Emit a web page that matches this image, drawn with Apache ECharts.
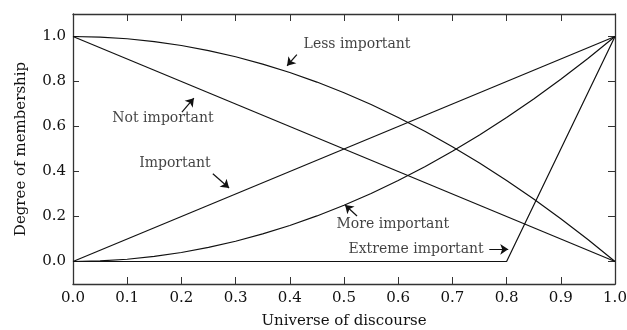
<!DOCTYPE html>
<html><head><meta charset="utf-8">
<script src="https://cdn.jsdelivr.net/npm/echarts@6/dist/echarts.min.js"></script>
<style>html,body{margin:0;padding:0;background:#fff}#c{width:627px;height:330px}</style>
</head><body><div id="c"></div>
<script>
const xs = [0,0.05,0.1,0.15,0.2,0.25,0.3,0.35,0.4,0.45,0.5,0.55,0.6,0.65,0.7,0.75,0.8,0.85,0.9,0.95,1];
const lessImportant = [1,0.9975,0.99,0.9775,0.96,0.9375,0.91,0.8775,0.84,0.7975,0.75,0.6975,0.64,0.5775,0.51,0.4375,0.36,0.2775,0.19,0.0975,0];
const moreImportant = [0,0.0025,0.01,0.0225,0.04,0.0625,0.09,0.1225,0.16,0.2025,0.25,0.3025,0.36,0.4225,0.49,0.5625,0.64,0.7225,0.81,0.9025,1];
const important = [[0,0],[1,1]];
const notImportant = [[0,1],[1,0]];
const extremeImportant = [[0,0],[0.8,0],[1,1]];
const yTicks = [0,0.2,0.4,0.6,0.8,1.0];
const annLabels = ['Less important','Not important','Important','More important','Extreme important'];
const annText = [[0.524,0.964],[0.166,0.637],[0.188,0.435],[0.590,0.166],[0.633,0.054]];
const annTail = [[0.413,0.919],[0.201,0.664],[0.258,0.390],[0.524,0.202],[0.768,0.054]];
const annTip = [[0.395,0.870],[0.223,0.726],[0.288,0.327],[0.502,0.251],[0.803,0.054]];

const FONT = 'DejaVu Serif';
const C = '#111';
const lineStyle = {color: C, width: 1.2};
function pair(a){ return xs.map((x,i)=>[x,a[i]]); }
function mkLine(name,data){ return {name,type:'line',data,showSymbol:false,symbol:'none',lineStyle,silent:true,animation:false,z:3}; }
const axLine = {show:true,onZero:false,lineStyle:{color:'#333',width:1.3}};

const chart = echarts.init(document.getElementById('c'));
chart.setOption({
  animation:false,
  grid:{left:73,right:12,top:14,bottom:46,containLabel:false,outerBoundsMode:'none'},
  xAxis:[{
    type:'value',min:0,max:1,interval:0.1,position:'bottom',
    name:'Universe of discourse',nameLocation:'middle',nameGap:30,
    nameTextStyle:{fontFamily:FONT,fontSize:15,color:C},
    axisLine:axLine,
    axisTick:{inside:true,length:7,lineStyle:{color:'#333'}},
    axisLabel:{fontFamily:FONT,fontSize:15,color:C,margin:7,formatter:v=>v.toFixed(1)},
    splitLine:{show:false}
  },{
    type:'value',min:0,max:1,interval:0.1,position:'top',
    axisLine:axLine,
    axisTick:{inside:true,length:7,lineStyle:{color:'#333'}},
    axisLabel:{show:false},splitLine:{show:false}
  }],
  yAxis:[{
    type:'value',min:-0.1,max:1.1,position:'left',
    name:'Degree of membership',nameLocation:'middle',nameGap:44,
    nameTextStyle:{fontFamily:FONT,fontSize:15,color:C},
    axisLine:axLine,
    axisTick:{show:true,inside:true,length:6,customValues:yTicks,lineStyle:{color:'#333'}},
    axisLabel:{fontFamily:FONT,fontSize:15,color:C,margin:7,customValues:yTicks,formatter:v=>v.toFixed(1)},
    splitLine:{show:false}
  },{
    type:'value',min:-0.1,max:1.1,position:'right',
    axisLine:axLine,
    axisTick:{show:true,inside:true,length:7,customValues:yTicks,lineStyle:{color:'#333'}},
    axisLabel:{show:false},splitLine:{show:false}
  }],
  series:[
    mkLine('Less important',pair(lessImportant)),
    mkLine('More important',pair(moreImportant)),
    mkLine('Important',important),
    mkLine('Not important',notImportant),
    mkLine('Extreme important',extremeImportant),
    {
      type:'lines',coordinateSystem:'cartesian2d',silent:true,animation:false,
      symbol:['none','arrow'],symbolSize:[0,8],
      lineStyle:{color:C,width:1.2,opacity:1},
      data:annTail.map((t,i)=>({coords:[t,annTip[i]]})),z:4
    },
    {
      type:'scatter',silent:true,animation:false,symbolSize:1,
      itemStyle:{color:'rgba(0,0,0,0)'},
      label:{show:true,position:'inside',formatter:'{b}',fontFamily:FONT,fontSize:14,color:C},
      data:annLabels.map((n,i)=>({name:n,value:annText[i]})),z:5
    }
  ]
});
</script></body></html>
